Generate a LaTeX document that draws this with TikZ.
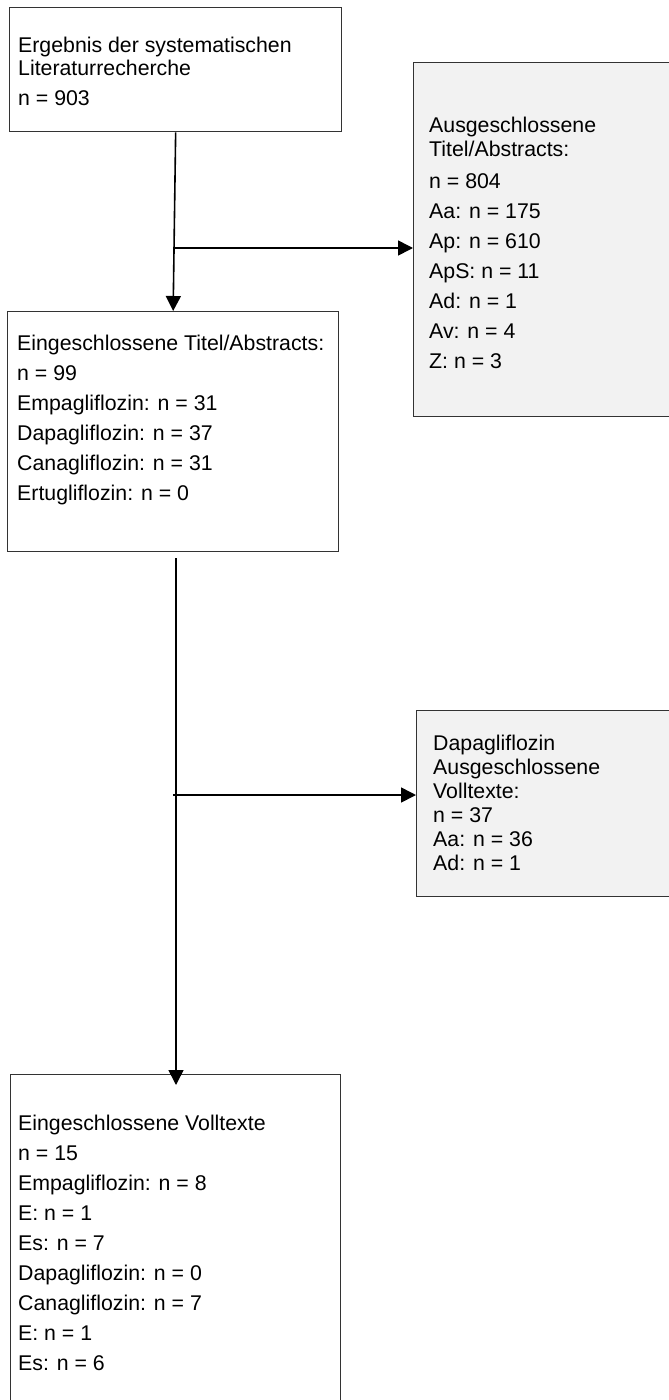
\documentclass[tikz,border=0pt]{standalone}
\usepackage{fontspec}
\setmainfont{Liberation Sans}
\usetikzlibrary{arrows.meta}
\definecolor{boxgray}{HTML}{F2F2F2}
\newcommand{\boxlines}[1]{\begin{tabular}[t]{@{}l@{}}#1\end{tabular}}
\begin{document}
\begin{tikzpicture}[x=1pt,y=-1pt,>={Triangle[length=15pt,width=15pt]},
	box/.style={draw=black!80,line width=1.3pt,anchor=north west,inner sep=0pt},
	graybox/.style={box,fill=boxgray},
	txt/.style={anchor=base west,inner sep=0pt,font=\fontsize{21.3}{24}\selectfont},
	flow/.style={->,line width=1.6pt}]
	\useasboundingbox (0,0) rectangle (669,1400);
	% boxes
	\node[box,minimum width=332pt,minimum height=124pt] (erg) at (9,7) {};
	\node[graybox,minimum width=280pt,minimum height=354pt] (aus1) at (413,62) {};
	\node[box,minimum width=331pt,minimum height=240pt] (ein1) at (7,311) {};
	\node[graybox,minimum width=280pt,minimum height=186pt] (aus2) at (416,710) {};
	\node[box,minimum width=330pt,minimum height=360pt] (ein2) at (10,1074) {};
	% texts
	\node[txt] (erg-t) at (18,52) {\boxlines{Ergebnis der systematischen\\Literaturrecherche\\[6pt]n = 903}};
	\node[txt] (aus1-t) at (429,132) {\boxlines{Ausgeschlossene\\Titel/Abstracts:\\[8pt]n = 804\\[6pt]Aa: n = 175\\[6pt]Ap: n = 610\\[6pt]ApS: n = 11\\[6pt]Ad: n = 1\\[6pt]Av: n = 4\\[6pt]Z: n = 3}};
	\node[txt] (ein1-t) at (17,350) {\boxlines{Eingeschlossene Titel/Abstracts:\\[6pt]n = 99\\[6pt]Empagliflozin: n = 31\\[6pt]Dapagliflozin: n = 37\\[6pt]Canagliflozin: n = 31\\[6pt]Ertugliflozin: n = 0}};
	\node[txt] (aus2-t) at (433,750) {\boxlines{Dapagliflozin\\Ausgeschlossene\\Volltexte:\\n = 37\\Aa: n = 36\\Ad: n = 1}};
	\node[txt] (ein2-t) at (18,1130) {\boxlines{Eingeschlossene Volltexte\\[6pt]n = 15\\[6pt]Empagliflozin: n = 8\\[6pt]E: n = 1\\[6pt]Es: n = 7\\[6pt]Dapagliflozin: n = 0\\[6pt]Canagliflozin: n = 7\\[6pt]E: n = 1\\[6pt]Es: n = 6}};
	% connectors
	\coordinate (k1) at (175,248);
	\coordinate (k2) at (176,558);
	\coordinate (k3) at (173,795);
	\draw[flow] (erg.south) -- (ein1.north);
	\draw[flow] (k1) -- (k1 -| aus1.west);
	\draw[flow,shorten >=-11pt] (k2) -- (k2 |- ein2.north);
	\draw[flow] (k3) -- (k3 -| aus2.west);
\end{tikzpicture}
\end{document}
